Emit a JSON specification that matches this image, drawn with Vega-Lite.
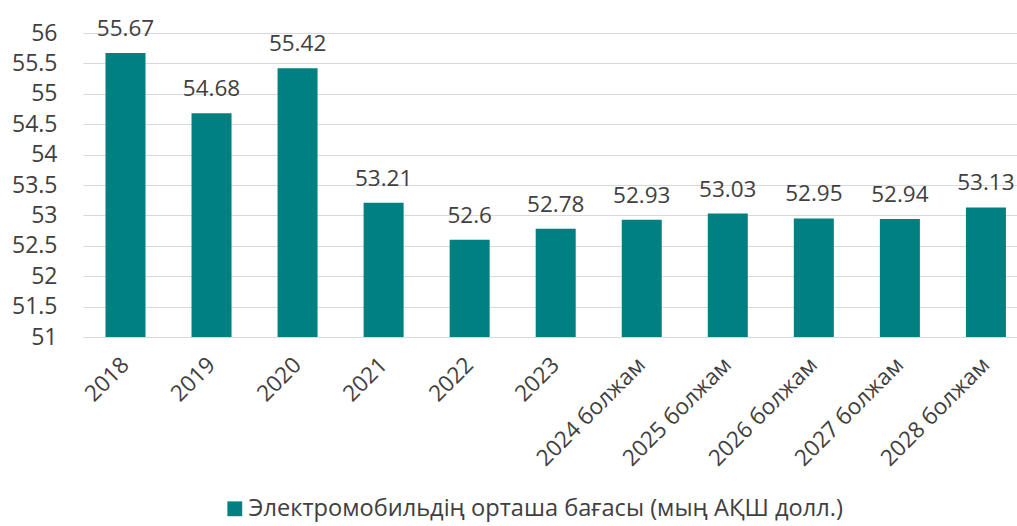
{
  "$schema": "https://vega.github.io/schema/vega-lite/v6.json",
  "width": 934,
  "height": 304,
  "autosize": {"type": "none"},
  "padding": {"left": 83, "top": 33, "right": 0, "bottom": 189},
  "background": "white",
  "config": {
    "font": "Open Sans",
    "view": {"stroke": null},
    "axis": {"labelColor": "#404040", "labelFontSize": 22.5, "labelFont": "Open Sans"}
  },
  "data": {
    "values": [
      {"year": "2018", "value": 55.67},
      {"year": "2019", "value": 54.68},
      {"year": "2020", "value": 55.42},
      {"year": "2021", "value": 53.21},
      {"year": "2022", "value": 52.6},
      {"year": "2023", "value": 52.78},
      {"year": "2024 болжам", "value": 52.93},
      {"year": "2025 болжам", "value": 53.03},
      {"year": "2026 болжам", "value": 52.95},
      {"year": "2027 болжам", "value": 52.94},
      {"year": "2028 болжам", "value": 53.13}
    ]
  },
  "encoding": {
    "x": {
      "field": "year",
      "type": "nominal",
      "sort": null,
      "scale": {"paddingInner": 0.535, "paddingOuter": 0.195, "align": 0.67},
      "axis": {
        "title": null,
        "labelAngle": -45,
        "labelAlign": "right",
        "labelBaseline": "middle",
        "labelPadding": 24,
        "ticks": false,
        "domainColor": "#d9d9d9",
        "domainWidth": 1
      }
    },
    "y": {
      "field": "value",
      "type": "quantitative",
      "scale": {"domain": [51, 56], "zero": false, "nice": false},
      "axis": {
        "title": null,
        "values": [51, 51.5, 52, 52.5, 53, 53.5, 54, 54.5, 55, 55.5, 56],
        "format": "~g",
        "labelFontSize": 23,
        "ticks": false,
        "domain": false,
        "gridColor": "#d9d9d9",
        "gridWidth": 1,
        "labelPadding": 26
      }
    }
  },
  "layer": [
    {
      "mark": {"type": "bar", "clip": true},
      "encoding": {
        "color": {
          "datum": "Электромобильдің орташа бағасы (мың АҚШ долл.)",
          "type": "nominal",
          "scale": {"range": ["#008080"]},
          "legend": {
            "title": null,
            "orient": "none",
            "legendX": 140,
            "legendY": 464,
            "symbolType": "square",
            "symbolSize": 220,
            "symbolStrokeWidth": 0,
            "labelFontSize": 23.6,
            "labelColor": "#404040",
            "labelFont": "Open Sans",
            "labelOffset": 2,
            "labelLimit": 1000,
            "padding": 0
          }
        }
      }
    },
    {
      "mark": {"type": "text", "baseline": "alphabetic", "dy": -17, "fontSize": 22.5, "color": "#404040"},
      "encoding": {"text": {"field": "value", "type": "quantitative"}}
    }
  ]
}
